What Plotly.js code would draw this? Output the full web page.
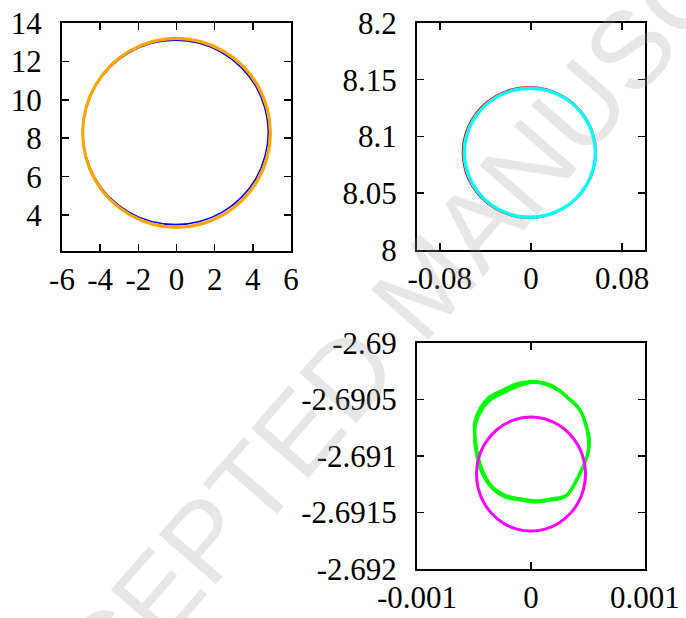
<!DOCTYPE html>
<html>
<head>
<meta charset="utf-8">
<script src="https://cdn.plot.ly/plotly-3.0.1.min.js"></script>
<style>html,body{margin:0;padding:0;background:#fff;}#chart{width:686px;height:618px;}</style>
</head>
<body>
<div id="chart"></div>
<script>
// Panel 1 (top-left)
const blueX = [4.81, 4.64, 4.16, 3.39, 2.38, 1.21, -0.05, -1.31, -2.48, -3.49, -4.26, -4.74, -4.91, -4.74, -4.26, -3.49, -2.48, -1.31, -0.05, 1.21, 2.38, 3.39, 4.16, 4.64, 4.81];
const blueY = [8.30, 9.54, 10.70, 11.69, 12.46, 12.94, 13.10, 12.94, 12.46, 11.69, 10.70, 9.54, 8.30, 7.06, 5.90, 4.91, 4.14, 3.66, 3.50, 3.66, 4.14, 4.91, 5.90, 7.06, 8.30];
const orangeX = [4.92, 4.75, 4.26, 3.48, 2.46, 1.27, 0, -1.27, -2.46, -3.48, -4.26, -4.75, -4.92, -4.75, -4.26, -3.48, -2.46, -1.27, 0, 1.27, 2.46, 3.48, 4.26, 4.75, 4.92];
const orangeY = [8.28, 9.55, 10.74, 11.76, 12.54, 13.03, 13.20, 13.03, 12.54, 11.76, 10.74, 9.55, 8.28, 7.01, 5.82, 4.80, 4.02, 3.53, 3.36, 3.53, 4.02, 4.80, 5.82, 7.01, 8.28];
const p1XTicks = [-6, -4, -2, 0, 2, 4, 6];
const p1XLabels = ["-6", "-4", "-2", "0", "2", "4", "6"];
const p1YTicks = [4, 6, 8, 10, 12, 14];
const p1YLabels = ["4", "6", "8", "10", "12", "14"];

// Panel 2 (top-right)
const redX = [0.0573, 0.0553, 0.0494, 0.0401, 0.0279, 0.0137, -0.0015, -0.0167, -0.0309, -0.0431, -0.0524, -0.0583, -0.0603, -0.0583, -0.0524, -0.0431, -0.0309, -0.0167, -0.0015, 0.0137, 0.0279, 0.0401, 0.0494, 0.0553, 0.0573];
const redY = [8.0859, 8.1009, 8.1150, 8.1270, 8.1362, 8.1420, 8.1440, 8.1420, 8.1362, 8.1270, 8.1150, 8.1009, 8.0859, 8.0709, 8.0568, 8.0448, 8.0356, 8.0298, 8.0278, 8.0298, 8.0356, 8.0448, 8.0568, 8.0709, 8.0859];
const cyanX = [0.0565, 0.0545, 0.0488, 0.0397, 0.0278, 0.0139, -0.001, -0.0159, -0.0298, -0.0417, -0.0508, -0.0565, -0.0585, -0.0565, -0.0508, -0.0417, -0.0298, -0.0159, -0.001, 0.0139, 0.0278, 0.0397, 0.0488, 0.0545, 0.0565];
const cyanY = [8.0857, 8.1004, 8.1141, 8.1259, 8.1349, 8.1406, 8.1425, 8.1406, 8.1349, 8.1259, 8.1141, 8.1004, 8.0857, 8.0710, 8.0573, 8.0455, 8.0365, 8.0308, 8.0289, 8.0308, 8.0365, 8.0455, 8.0573, 8.0710, 8.0857];
const p2XTicks = [-0.08, 0, 0.08];
const p2XLabels = ["-0.08", "0", "0.08"];
const p2YTicks = [8, 8.05, 8.1, 8.15, 8.2];
const p2YLabels = ["8", "8.05", "8.1", "8.15", "8.2"];

// Panel 3 (bottom)
const greenAX = [0.000509, 0.000482, 0.000430, 0.000342, 0.000237, 0.000123, 0.000009, -0.000114, -0.000246, -0.000360, -0.000439, -0.000491, -0.000491, -0.000474, -0.000430, -0.000351, -0.000228, -0.000096, 0.000035, 0.000167, 0.000307, 0.000386, 0.000456, 0.000500, 0.000509];
const greenAY = [-2.690858, -2.690726, -2.690593, -2.690504, -2.690416, -2.690363, -2.690345, -2.690372, -2.690434, -2.690496, -2.690593, -2.690726, -2.690858, -2.690991, -2.691142, -2.691274, -2.691363, -2.691389, -2.691407, -2.691389, -2.691354, -2.691239, -2.691097, -2.690974, -2.690858];
const greenBX = [0.000505, 0.000486, 0.000436, 0.000350, 0.000245, 0.000131, 0.000017, -0.000106, -0.000238, -0.000352, -0.000432, -0.000486, -0.000494, -0.000480, -0.000438, -0.000360, -0.000238, -0.000106, 0.000026, 0.000158, 0.000298, 0.000378, 0.000450, 0.000497, 0.000505];
const greenBY = [-2.690870, -2.690738, -2.690603, -2.690510, -2.690420, -2.690365, -2.690348, -2.690380, -2.690440, -2.690500, -2.690590, -2.690718, -2.690848, -2.690980, -2.691130, -2.691262, -2.691355, -2.691386, -2.691405, -2.691392, -2.691360, -2.691250, -2.691108, -2.690985, -2.690870];
const greenCX = [0.000512, 0.000478, 0.000422, 0.000334, 0.000228, 0.000115, 0.000000, -0.000124, -0.000256, -0.000368, -0.000446, -0.000496, -0.000488, -0.000468, -0.000422, -0.000342, -0.000220, -0.000088, 0.000044, 0.000176, 0.000314, 0.000394, 0.000462, 0.000504, 0.000512];
const greenCY = [-2.690848, -2.690716, -2.690580, -2.690492, -2.690402, -2.690352, -2.690340, -2.690360, -2.690420, -2.690480, -2.690578, -2.690712, -2.690846, -2.690984, -2.691136, -2.691268, -2.691350, -2.691378, -2.691396, -2.691380, -2.691344, -2.691228, -2.691086, -2.690962, -2.690848];
const magentaX = [0.000478, 0.000462, 0.000414, 0.000338, 0.000239, 0.000124, 0, -0.000124, -0.000239, -0.000338, -0.000414, -0.000462, -0.000478, -0.000462, -0.000414, -0.000338, -0.000239, -0.000124, 0, 0.000124, 0.000239, 0.000338, 0.000414, 0.000462, 0.000478];
const magentaY = [-2.691160, -2.691030, -2.690908, -2.690804, -2.690724, -2.690673, -2.690656, -2.690673, -2.690724, -2.690804, -2.690908, -2.691030, -2.691160, -2.691290, -2.691412, -2.691516, -2.691597, -2.691647, -2.691664, -2.691647, -2.691597, -2.691516, -2.691412, -2.691290, -2.691160];
const p3XTicks = [-0.001, 0, 0.001];
const p3XLabels = ["-0.001", "0", "0.001"];
const p3YTicks = [-2.692, -2.6915, -2.691, -2.6905, -2.69];
const p3YLabels = ["-2.692", "-2.6915", "-2.691", "-2.6905", "-2.69"];

function curve(x, y, color, width, xa, ya) {
  return {x: x, y: y, type: 'scatter', mode: 'lines', xaxis: xa, yaxis: ya,
          line: {color: color, width: width, shape: 'spline', smoothing: 1},
          hoverinfo: 'skip', showlegend: false};
}

const traces = [
  curve(blueX, blueY, '#0000ff', 1.6, 'x', 'y'),
  curve(orangeX, orangeY, '#ffa500', 3.2, 'x', 'y'),
  curve(redX, redY, '#ff0000', 1.2, 'x2', 'y2'),
  curve(cyanX, cyanY, '#00ffff', 3.4, 'x2', 'y2'),
  curve(greenAX, greenAY, '#00ff00', 3, 'x3', 'y3'),
  curve(greenBX, greenBY, '#00ff00', 3, 'x3', 'y3'),
  curve(greenCX, greenCY, '#00ff00', 3, 'x3', 'y3'),
  curve(magentaX, magentaY, '#ff00ff', 3, 'x3', 'y3')
];

const font = {family: '"Liberation Serif", "DejaVu Serif", serif', size: 31, color: '#000'};
function ax(domain, range, tv, tt, anchor, isY) {
  return {domain: domain, range: range, tickvals: tv, ticktext: tt, anchor: anchor,
          showgrid: false, zeroline: false, showline: true, linecolor: '#000', linewidth: 2,
          mirror: 'ticks', ticks: 'inside', ticklen: 7, tickwidth: 1.5, tickcolor: '#000',
          tickfont: font, ticklabelstandoff: isY ? 12 : 0, fixedrange: true};
}

const layout = {
  width: 686, height: 618,
  margin: {l: 0, r: 0, t: 0, b: 0},
  paper_bgcolor: '#fff', plot_bgcolor: 'rgba(0,0,0,0)',
  showlegend: false,
  xaxis: ax([0.0904, 0.4242], [-6, 6], p1XTicks, p1XLabels, 'y', false),
  yaxis: ax([0.5945, 0.9628], [2.15, 14], p1YTicks, p1YLabels, 'x', true),
  xaxis2: ax([0.6079, 0.9402], [-0.1, 0.1], p2XTicks, p2XLabels, 'y2', false),
  yaxis2: ax([0.5955, 0.9628], [8, 8.2], p2YTicks, p2YLabels, 'x2', true),
  xaxis3: ax([0.6079, 0.9402], [-0.001, 0.001], p3XTicks, p3XLabels, 'y3', false),
  yaxis3: ax([0.0793, 0.4450], [-2.692, -2.69], p3YTicks, p3YLabels, 'x3', true),
  annotations: [{
    text: 'ACCEPTED MANUSCRIPT', xref: 'paper', yref: 'paper', x: 0.62, y: 0.54,
    xanchor: 'center', yanchor: 'middle', showarrow: false, textangle: -49,
    font: {family: '"Liberation Sans", Arial, sans-serif', size: 110, color: 'rgba(160,160,160,0.25)'}
  }]
};

Plotly.newPlot('chart', traces, layout, {staticPlot: true, displayModeBar: false});
</script>
</body>
</html>
